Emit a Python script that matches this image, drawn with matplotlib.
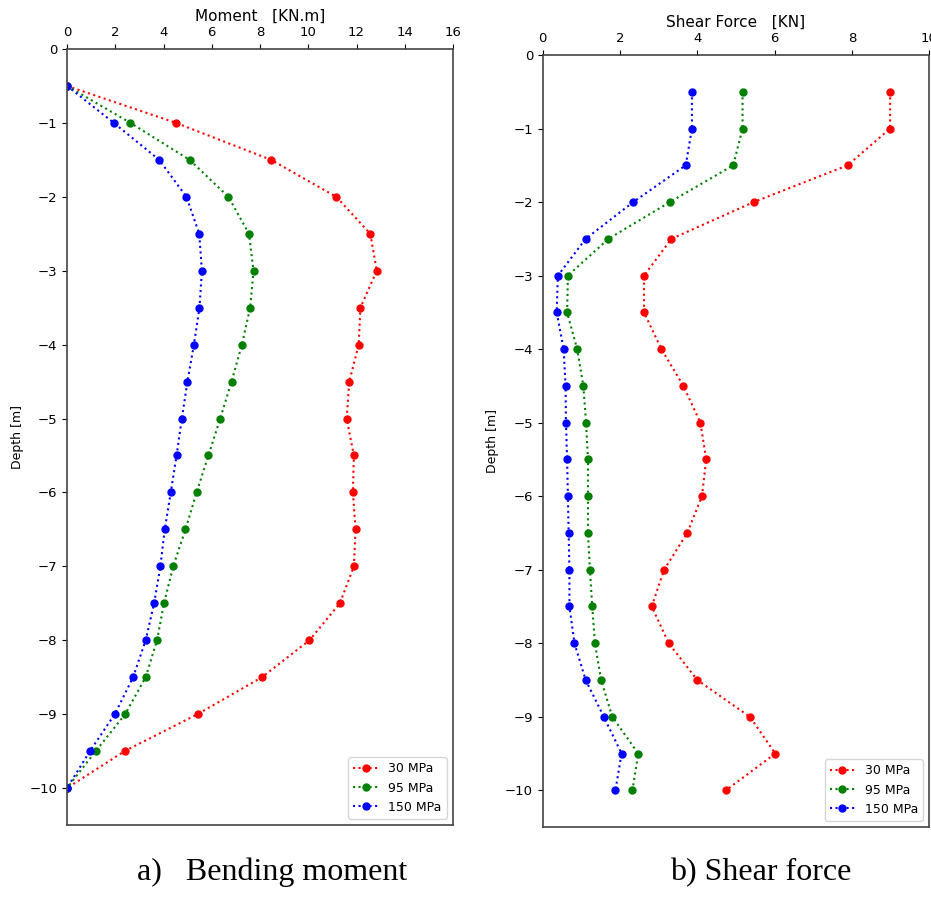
import matplotlib.pyplot as plt
import numpy as np

# depth points (m)
depth = np.array([-0.5, -1.0, -1.5, -2.0, -2.5, -3.0, -3.5, -4.0, -4.5, -5.0,
                  -5.5, -6.0, -6.5, -7.0, -7.5, -8.0, -8.5, -9.0, -9.5, -10.0])

labels = ['30 MPa', '95 MPa', '150 MPa']
colors = ['red', 'green', 'blue']

# bending moment (KN.m)
moment_30 = [0.0, 4.52, 8.46, 11.16, 12.57, 12.84, 12.16, 12.09, 11.70, 11.59,
             11.89, 11.85, 11.96, 11.89, 11.31, 10.05, 8.08, 5.41, 2.39, 0.0]
moment_95 = [0.0, 2.63, 5.08, 6.69, 7.54, 7.73, 7.59, 7.25, 6.82, 6.35,
             5.86, 5.37, 4.91, 4.40, 4.02, 3.73, 3.26, 2.41, 1.19, 0.0]
moment_150 = [0.0, 1.94, 3.82, 4.95, 5.48, 5.59, 5.49, 5.26, 4.99, 4.76,
              4.54, 4.30, 4.05, 3.87, 3.61, 3.26, 2.74, 1.98, 0.95, 0.0]

# shear force (KN)
shear_30 = [8.99, 8.99, 7.89, 5.46, 3.33, 2.62, 2.62, 3.07, 3.64, 4.08,
            4.23, 4.12, 3.74, 3.14, 2.82, 3.26, 4.00, 5.36, 6.02, 4.74]
shear_95 = [5.17, 5.17, 4.93, 3.29, 1.70, 0.65, 0.63, 0.89, 1.05, 1.12,
            1.17, 1.17, 1.17, 1.22, 1.28, 1.35, 1.51, 1.80, 2.47, 2.32]
shear_150 = [3.86, 3.86, 3.70, 2.34, 1.11, 0.39, 0.36, 0.54, 0.59, 0.60,
             0.63, 0.65, 0.67, 0.69, 0.69, 0.82, 1.11, 1.58, 2.04, 1.88]

fig = plt.figure(figsize=(9.31, 8.99), dpi=100)
ax1 = fig.add_axes([0.072, 0.0823, 0.4146, 0.8632])
ax2 = fig.add_axes([0.583, 0.080, 0.415, 0.8588])


def style(ax, xlabel, xmax, xticks):
    ax.xaxis.tick_top()
    ax.xaxis.set_label_position('top')
    ax.set_xlabel(xlabel, fontsize=11, labelpad=4)
    ax.set_ylabel('Depth [m]', fontsize=9)
    ax.set_xlim(0, xmax)
    ax.set_ylim(-10.5, 0)
    ax.set_xticks(xticks)
    ax.set_yticks(np.arange(0, -11, -1))
    ax.tick_params(labelsize=9.5, length=3.5)
    for s in ax.spines.values():
        s.set_color('#444444')
        s.set_linewidth(1.2)
    ax.legend(loc='lower right', fontsize=9)


for vals, c, lab in zip([moment_30, moment_95, moment_150], colors, labels):
    ax1.plot(vals, depth, ':', color=c, marker='o', markersize=5, label=lab)
style(ax1, 'Moment   [KN.m]', 16, np.arange(0, 17, 2))

for vals, c, lab in zip([shear_30, shear_95, shear_150], colors, labels):
    ax2.plot(vals, depth, ':', color=c, marker='o', markersize=5, label=lab)
style(ax2, 'Shear Force   [KN]', 10, np.arange(0, 11, 2))

# captions under the panels
fig.text(0.292, 0.021, 'a)   Bending moment', fontsize=23, family='Liberation Serif',
         ha='center', va='baseline')
fig.text(0.817, 0.021, 'b) Shear force', fontsize=23, family='Liberation Serif',
         ha='center', va='baseline')

plt.savefig('out.png', dpi=100)
